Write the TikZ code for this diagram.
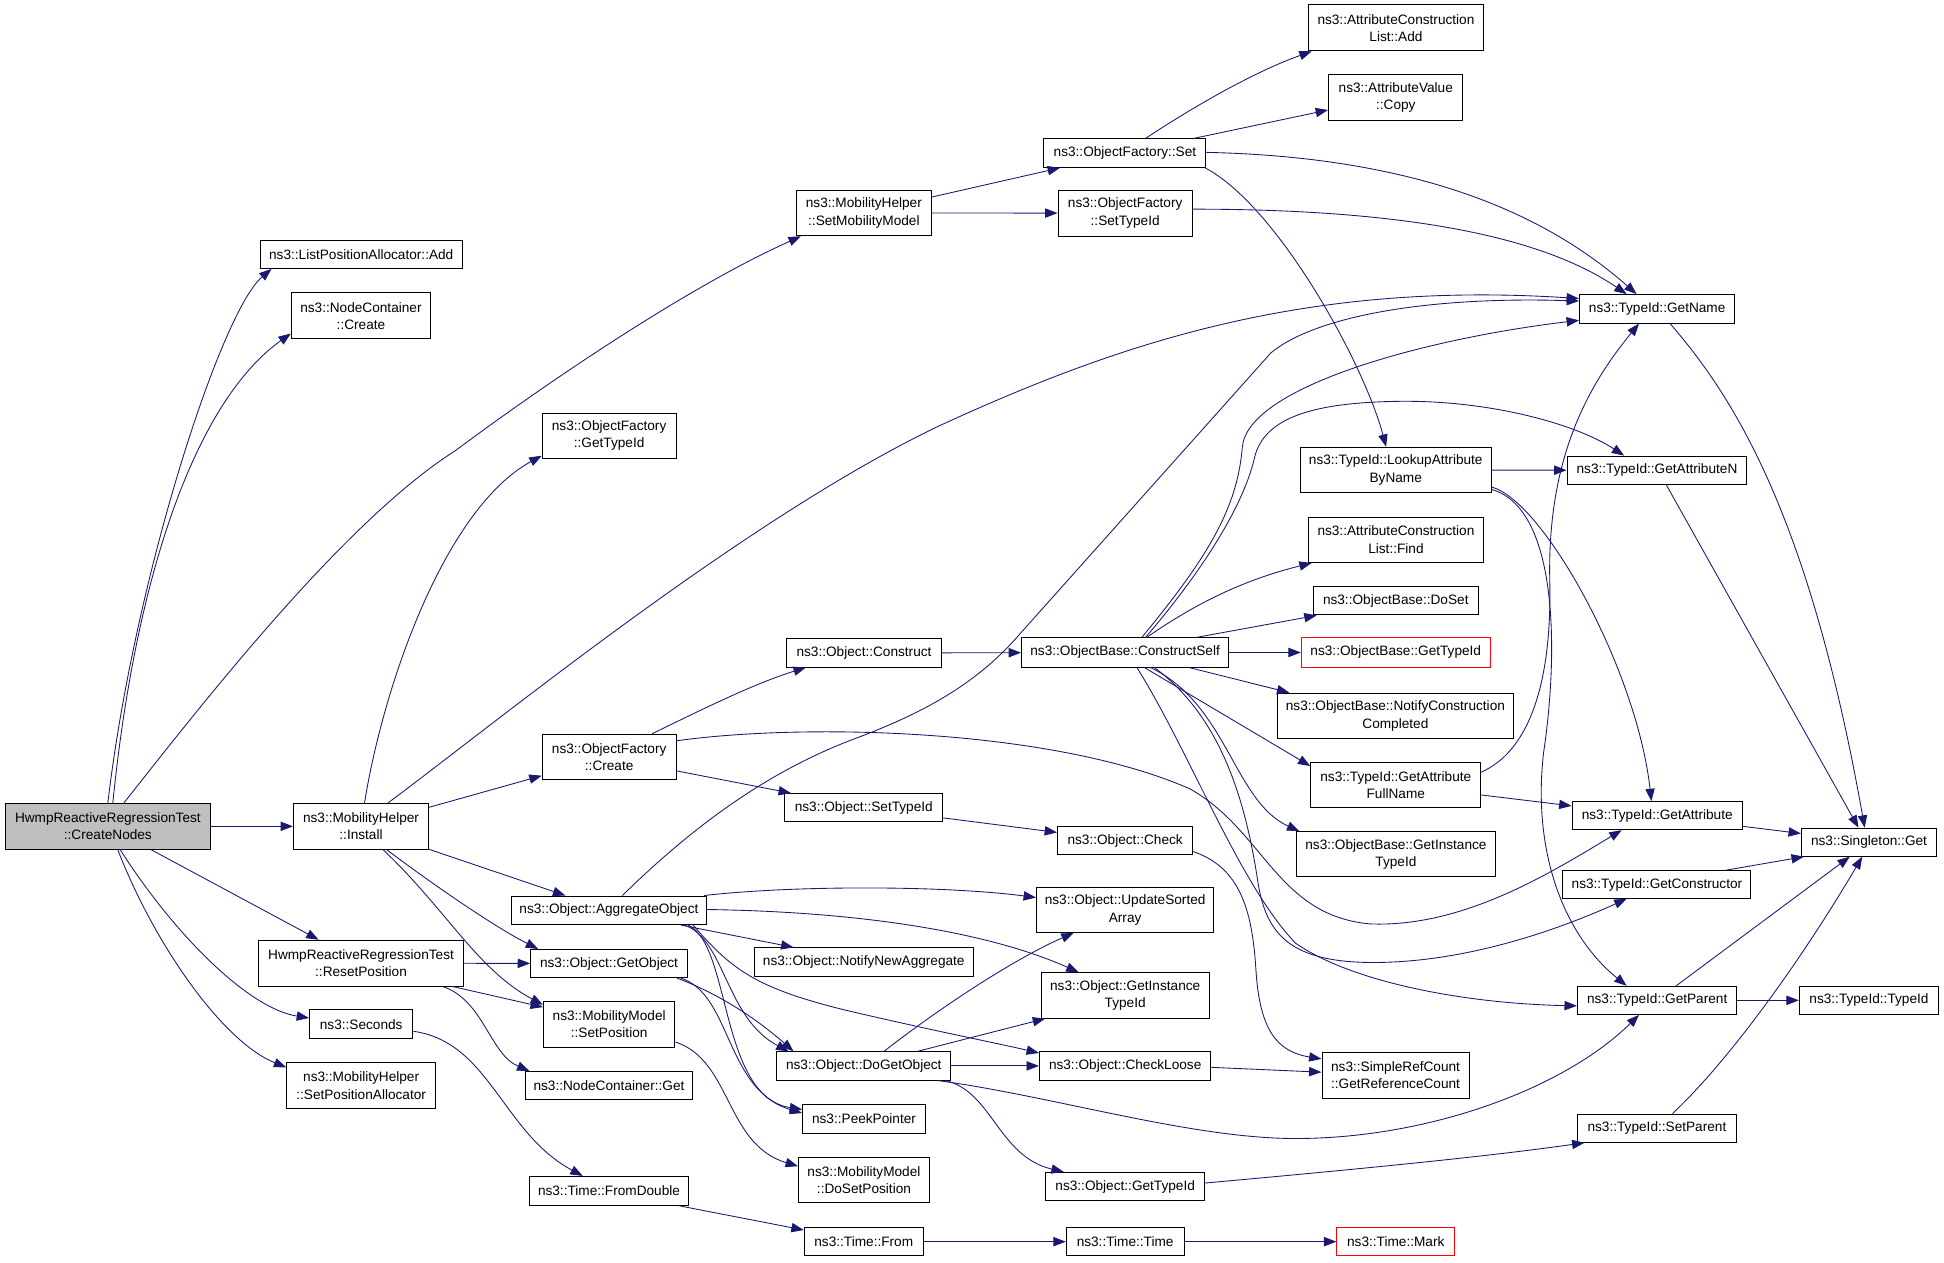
\documentclass[tikz,border=0pt]{standalone}
\usepackage{fontspec}
\setmainfont{Liberation Sans}
\usetikzlibrary{arrows.meta}
\definecolor{mnb}{RGB}{25,25,112}
\definecolor{nodegray}{RGB}{191,191,191}
\newcommand{\dxnode}[7][]{%
  \pgfmathsetmacro{\dxw}{#4-#2}\pgfmathsetmacro{\dxh}{#5-#3}%
  \pgfmathsetmacro{\dxx}{(#2+#4)/2}\pgfmathsetmacro{\dxy}{(#3+#5)/2}%
  \node[dbox,#1,minimum width=\dxw pt,minimum height=\dxh pt] (#6) at (\dxx,\dxy) {#7};}
\begin{document}
\begin{tikzpicture}[x=1pt,y=-1pt,
  dbox/.style={draw=black,line width=0.8pt,rectangle,inner sep=0pt,align=center,fill=white,
    font=\fontsize{11}{14}\selectfont},
  redbox/.style={draw=red},
  rootbox/.style={fill=nodegray},
  cedge/.style={draw=mnb,line width=0.7pt,-{Triangle[length=10pt,width=7.5pt]}}]
\useasboundingbox (0,0) rectangle (1568,1018.7);
% ---- nodes ----
\dxnode[rootbox]{4.3}{648}{169.7}{685}{cn}{HwmpReactiveRegressionTest\\::CreateNodes}
\dxnode{210}{193.7}{372.7}{216.5}{lpa}{ns3::ListPositionAllocator::Add}
\dxnode{235}{236.2}{347.3}{273.3}{ncc}{ns3::NodeContainer\\::Create}
\dxnode{236.7}{648}{345.7}{685}{inst}{ns3::MobilityHelper\\::Install}
\dxnode{642.3}{153.4}{751.3}{190.2}{smm}{ns3::MobilityHelper\\::SetMobilityModel}
\dxnode{437.3}{333.2}{545.3}{369.5}{ofgt}{ns3::ObjectFactory\\::GetTypeId}
\dxnode{208.7}{758.4}{373.7}{795.3}{rp}{HwmpReactiveRegressionTest\\::ResetPosition}
\dxnode{249.7}{814.4}{333}{837.7}{sec}{ns3::Seconds}
\dxnode{231.3}{857.1}{351.3}{894.1}{spa}{ns3::MobilityHelper\\::SetPositionAllocator}
\dxnode{437.3}{592.2}{545.4}{628.7}{ofc}{ns3::ObjectFactory\\::Create}
\dxnode{412.3}{722.7}{570}{745.7}{ago}{ns3::Object::AggregateObject}
\dxnode{428}{765.8}{554.4}{788.5}{go}{ns3::Object::GetObject}
\dxnode{438.3}{807.9}{544.4}{844.5}{msp}{ns3::MobilityModel\\::SetPosition}
\dxnode{423.7}{864.3}{558.7}{887}{ncg}{ns3::NodeContainer::Get}
\dxnode{427}{948.9}{555.4}{972.2}{fd}{ns3::Time::FromDouble}
\dxnode{634.4}{515.4}{759.4}{538}{con}{ns3::Object::Construct}
\dxnode{633}{640.1}{760.4}{662.7}{ostid}{ns3::Object::SetTypeId}
\dxnode{853}{667}{962}{689.6}{chk}{ns3::Object::Check}
\dxnode{836}{715.6}{979}{752.1}{usa}{ns3::Object::UpdateSorted\\Array}
\dxnode{608.4}{764.5}{785}{787.5}{nna}{ns3::Object::NotifyNewAggregate}
\dxnode{839.7}{784.6}{975.4}{821.2}{git}{ns3::Object::GetInstance\\TypeId}
\dxnode{626.7}{848.4}{766.7}{871.1}{dgo}{ns3::Object::DoGetObject}
\dxnode{838.4}{848.4}{976.7}{871.1}{cl}{ns3::Object::CheckLoose}
\dxnode{647.4}{891.1}{746.4}{913.9}{pp}{ns3::PeekPointer}
\dxnode{644}{933.6}{749.7}{970.3}{dsp}{ns3::MobilityModel\\::DoSetPosition}
\dxnode{843.4}{945.6}{971.7}{968.6}{ogt}{ns3::Object::GetTypeId}
\dxnode{648.7}{990}{744.7}{1013}{tfrom}{ns3::Time::From}
\dxnode{860}{990}{955}{1013}{ttime}{ns3::Time::Time}
\dxnode{842}{112}{972.7}{135}{ofs}{ns3::ObjectFactory::Set}
\dxnode{853.4}{153.4}{961.7}{190.4}{ofst}{ns3::ObjectFactory\\::SetTypeId}
\dxnode{1055.3}{3.9}{1196.6}{41}{acla}{ns3::AttributeConstruction\\List::Add}
\dxnode{1071.6}{60.2}{1180}{96.8}{avc}{ns3::AttributeValue\\::Copy}
\dxnode{824}{514.5}{991}{538}{cs}{ns3::ObjectBase::ConstructSelf}
\dxnode{1048.6}{360.8}{1203}{397.5}{labn}{ns3::TypeId::LookupAttribute\\ByName}
\dxnode{1055.3}{417}{1196.6}{453.7}{aclf}{ns3::AttributeConstruction\\List::Find}
\dxnode{1059.3}{473.2}{1192.3}{496}{ds}{ns3::ObjectBase::DoSet}
\dxnode[redbox]{1049.6}{514.5}{1202}{538}{obgt}{ns3::ObjectBase::GetTypeId}
\dxnode{1030}{559.1}{1221}{595.8}{ncc2}{ns3::ObjectBase::NotifyConstruction\\Completed}
\dxnode{1057.3}{614.8}{1194.3}{651.5}{gafn}{ns3::TypeId::GetAttribute\\FullName}
\dxnode{1045.6}{670.9}{1206.3}{707.1}{obgit}{ns3::ObjectBase::GetInstance\\TypeId}
\dxnode{1274}{237.6}{1399.3}{260.6}{gn}{ns3::TypeId::GetName}
\dxnode{1264}{367.9}{1409}{390.7}{gan}{ns3::TypeId::GetAttributeN}
\dxnode{1268}{646.6}{1405.3}{669.2}{ga}{ns3::TypeId::GetAttribute}
\dxnode{1453}{668}{1562}{690.6}{sg}{ns3::Singleton::Get}
\dxnode{1260.6}{702.3}{1412.3}{724.6}{gc}{ns3::TypeId::GetConstructor}
\dxnode{1272.3}{795.5}{1401}{818.2}{gp}{ns3::TypeId::GetParent}
\dxnode{1451.3}{795.5}{1563.6}{818.2}{tid}{ns3::TypeId::TypeId}
\dxnode{1066.3}{849}{1185}{885.7}{grc}{ns3::SimpleRefCount\\::GetReferenceCount}
\dxnode{1272.6}{898.6}{1400.3}{921.3}{sp}{ns3::TypeId::SetParent}
\dxnode[redbox]{1078.3}{990}{1173.3}{1013}{mark}{ns3::Time::Mark}
% ---- edges ----
% CreateNodes
\draw[cedge] (cn.north -| 87,0) .. controls (108,468) and (178,251.5) .. (lpa.south -| 219,0);
\draw[cedge] (cn.north -| 91,0) .. controls (110,458) and (160,322) .. (ncc.west |- 0,269);
\draw[cedge] (cn.north -| 100,0) .. controls (170,558.6) and (280,419) .. (367,363.7) .. controls (450,302) and (560,229) .. (smm.south -| 646,0);
\draw[cedge] (cn) -- (inst);
\draw[cedge] (cn.south -| 122,0) -- (rp.north -| 257,0);
\draw[cedge] (cn.south -| 97,0) .. controls (140,753) and (200,813.3) .. (sec.west |- 0,821.1);
\draw[cedge] (cn.south -| 95,0) .. controls (125,762.7) and (180,840.5) .. (spa.west |- 0,860.9);
% Install
\draw[cedge] (inst.north -| 294,0) .. controls (310,548.9) and (360,409.5) .. (ofgt.west |- 0,367.6);
\draw[cedge] (inst.north -| 313,0) .. controls (400,582.9) and (600,419.3) .. (756,344.2) .. controls (900,277.9) and (1050,226.2) .. (gn.west |- 0,240.8);
\draw[cedge] (inst) -- (ofc);
\draw[cedge] (inst) -- (ago);
\draw[cedge] (inst.south -| 312,0) .. controls (350,714.1) and (400,748.2) .. (go.north -| 434,0);
\draw[cedge] (inst.south -| 309,0) .. controls (360,733.6) and (385,782.2) .. (msp.west |- 0,810.4);
% ResetPosition
\draw[cedge] (rp) -- (go);
\draw[cedge] (rp.south -| 365,0) -- (msp.west |- 0,812.3);
\draw[cedge] (rp.south -| 357,0) .. controls (390,806.5) and (395,850.2) .. (ncg.north -| 427,0);
% Seconds
\draw[cedge] (sec.east |- 0,831.8) .. controls (395,840.5) and (405,913.4) .. (fd.north -| 470,0);
% SetMobilityModel
\draw[cedge] (smm.east |- 0,158.9) -- (ofs.south -| 855,0);
\draw[cedge] (smm) -- (ofst);
% ObjectFactory::Set
\draw[cedge] (ofs.north -| 924,0) .. controls (960,87.8) and (1010,58.5) .. (acla.south -| 1058,0);
\draw[cedge] (ofs.north -| 963,0) -- (avc.west |- 0,88.7);
\draw[cedge] (ofs.east |- 0,122.9) .. controls (1150,126.8) and (1250,175.5) .. (gn.north -| 1320,0);
\draw[cedge] (ofs.south -| 972,0) .. controls (1030,165.8) and (1100,292.5) .. (labn.north -| 1118,0);
\draw[cedge] (ofst.east |- 0,168.7) .. controls (1150,168.7) and (1250,195) .. (gn.north -| 1312,0);
% ObjectFactory::Create
\draw[cedge] (ofc.north -| 526,0) .. controls (570,570.3) and (610,550.8) .. (con.south -| 650,0);
\draw[cedge] (ofc.east |- 0,621.8) -- (ostid.north -| 638,0);
\draw[cedge] (ofc.east |- 0,597.5) .. controls (650,582.9) and (850,587.8) .. (960,636.4) .. controls (1020,670.4) and (1030,738.4) .. (1105,745.2) .. controls (1180,748.2) and (1250,704.4) .. (ga.south -| 1308,0);
\draw[cedge] (con) -- (cs);
\draw[cedge] (ostid.east |- 0,659.7) -- (chk.west |- 0,671.4);
\draw[cedge] (chk.east |- 0,686.9) .. controls (1000,699.6) and (1010,733.6) .. (1013,782.2) .. controls (1016,830.8) and (1030,848.3) .. (grc.west |- 0,854.1);
% ConstructSelf
\draw[cedge] (cs) -- (obgt);
\draw[cedge] (cs.north -| 925,0) .. controls (970,482.6) and (1010,466) .. (aclf.south -| 1058,0);
\draw[cedge] (cs.north -| 965,0) -- (ds.south -| 1062,0);
\draw[cedge] (cs.south -| 959,0) -- (ncc2.north -| 1040,0);
\draw[cedge] (cs.south -| 923,0) -- (gafn.west |- 0,617.9);
\draw[cedge] (cs.south -| 928,0) .. controls (990,568.3) and (995,646.1) .. (obgit.north -| 1048,0);
\draw[cedge] (cs.south -| 931,0) .. controls (985,578.1) and (1005,646.1) .. (1015,714.1) .. controls (1022,753) and (1040,777.3) .. (1112,776.3) .. controls (1180,775.4) and (1250,753) .. (gc.south -| 1312,0);
\draw[cedge] (cs.south -| 917,0) .. controls (960,607.2) and (1000,714.1) .. (1045,760.8) .. controls (1090,791.9) and (1180,809.4) .. (gp.west |- 0,811.3);
\draw[cedge] (cs.north -| 921,0) .. controls (975,448.5) and (998,409.5) .. (1002,360.8) .. controls (1006,312) and (1150,273) .. (gn.west |- 0,258.4);
\draw[cedge] (cs.north -| 924,0) .. controls (980,448.5) and (1005,399.8) .. (1012,368.6) .. controls (1020,336.4) and (1060,324.7) .. (1128,323.7) .. controls (1200,322.7) and (1270,341.3) .. (gan.north -| 1310,0);
% LookupAttributeByName
\draw[cedge] (labn) -- (gan);
\draw[cedge] (labn.east |- 0,392.9) .. controls (1245,404.6) and (1320,539.2) .. (ga.north -| 1332,0);
\draw[cedge] (labn.east |- 0,394.9) .. controls (1255,409.5) and (1258,519.7) .. (1245,607.2) .. controls (1236,685) and (1260,753) .. (gp.north -| 1312,0);
% GetAttributeFullName
\draw[cedge] (gafn.east |- 0,622.8) .. controls (1230,607.2) and (1252,558.6) .. (1250,468) .. controls (1248,370.5) and (1280,312) .. (gn.south -| 1322,0);
\draw[cedge] (gafn.east |- 0,641.2) -- (ga.west |- 0,650);
% to Singleton::Get
\draw[cedge] (gn.south -| 1347,0) .. controls (1400,321.8) and (1460,419.3) .. (sg.north -| 1504,0);
\draw[cedge] (gan.south -| 1344,0) -- (sg.north -| 1499,0);
\draw[cedge] (ga.east |- 0,666.5) -- (sg.west |- 0,672.3);
\draw[cedge] (gc.north -| 1392,0) -- (sg.south -| 1455,0);
\draw[cedge] (gp.north -| 1352,0) -- (sg.south -| 1492,0);
\draw[cedge] (gp) -- (tid);
\draw[cedge] (sp.north -| 1349,0) .. controls (1400,850.2) and (1460,762.7) .. (sg.south -| 1502,0);
% AggregateObject
\draw[cedge] (ago.north -| 568,0) .. controls (640,714.1) and (760,714.1) .. (usa.west |- 0,723.9);
\draw[cedge] (ago.east |- 0,733.6) .. controls (700,735.5) and (800,753) .. (git.north -| 870,0);
\draw[cedge] (ago.south -| 549,0) -- (nna.north -| 640,0);
\draw[cedge] (ago.south -| 552,0) .. controls (585,757.9) and (585,821.1) .. (dgo.north -| 636,0);
\draw[cedge] (ago.south -| 555,0) .. controls (590,762.7) and (580,884.2) .. (pp.west |- 0,894.9);
\draw[cedge] (ago.south -| 559,0) .. controls (590,782.2) and (610,796.8) .. (680,814.3) .. controls (750,830.8) and (800,840.5) .. (cl.west |- 0,849.3);
\draw[cedge] (ago.north -| 502,0) .. controls (560,665.5) and (620,621.8) .. (690,595.6) .. controls (750,573.2) and (790,548.9) .. (822,512) -- (1025,284.7) .. controls (1060,255.5) and (1150,238.9) .. (gn.west |- 0,242.8);
% GetObject
\draw[cedge] (go.south -| 546,0) .. controls (585,803.6) and (615,825.9) .. (dgo.north -| 640,0);
\draw[cedge] (go.south -| 549,0) .. controls (590,801.6) and (585,879.4) .. (pp.west |- 0,897.8);
% SetPosition
\draw[cedge] (msp.east |- 0,840.5) .. controls (590,855.1) and (585,923.1) .. (dsp.west |- 0,940.6);
% DoGetObject
\draw[cedge] (dgo.north -| 713,0) .. controls (760,811.3) and (820,772.5) .. (usa.south -| 866,0);
\draw[cedge] (dgo.north -| 740,0) -- (git.south -| 843,0);
\draw[cedge] (dgo) -- (cl);
\draw[cedge] (dgo.south -| 762,0) .. controls (800,879.4) and (805,932.8) .. (ogt.north -| 858,0);
\draw[cedge] (dgo.south -| 756,0) .. controls (850,884.2) and (960,918.3) .. (1045,918.3) .. controls (1150,918.3) and (1260,879.4) .. (gp.south -| 1322,0);
\draw[cedge] (ogt.east |- 0,954.2) .. controls (1100,942.6) and (1200,932.8) .. (sp.south -| 1278,0);
\draw[cedge] (cl.east |- 0,860.9) -- (grc.west |- 0,864.8);
% Time
\draw[cedge] (fd.south -| 548,0) -- (tfrom.west |- 0,992.1);
\draw[cedge] (tfrom) -- (ttime);
\draw[cedge] (ttime) -- (mark);
\end{tikzpicture}
\end{document}
